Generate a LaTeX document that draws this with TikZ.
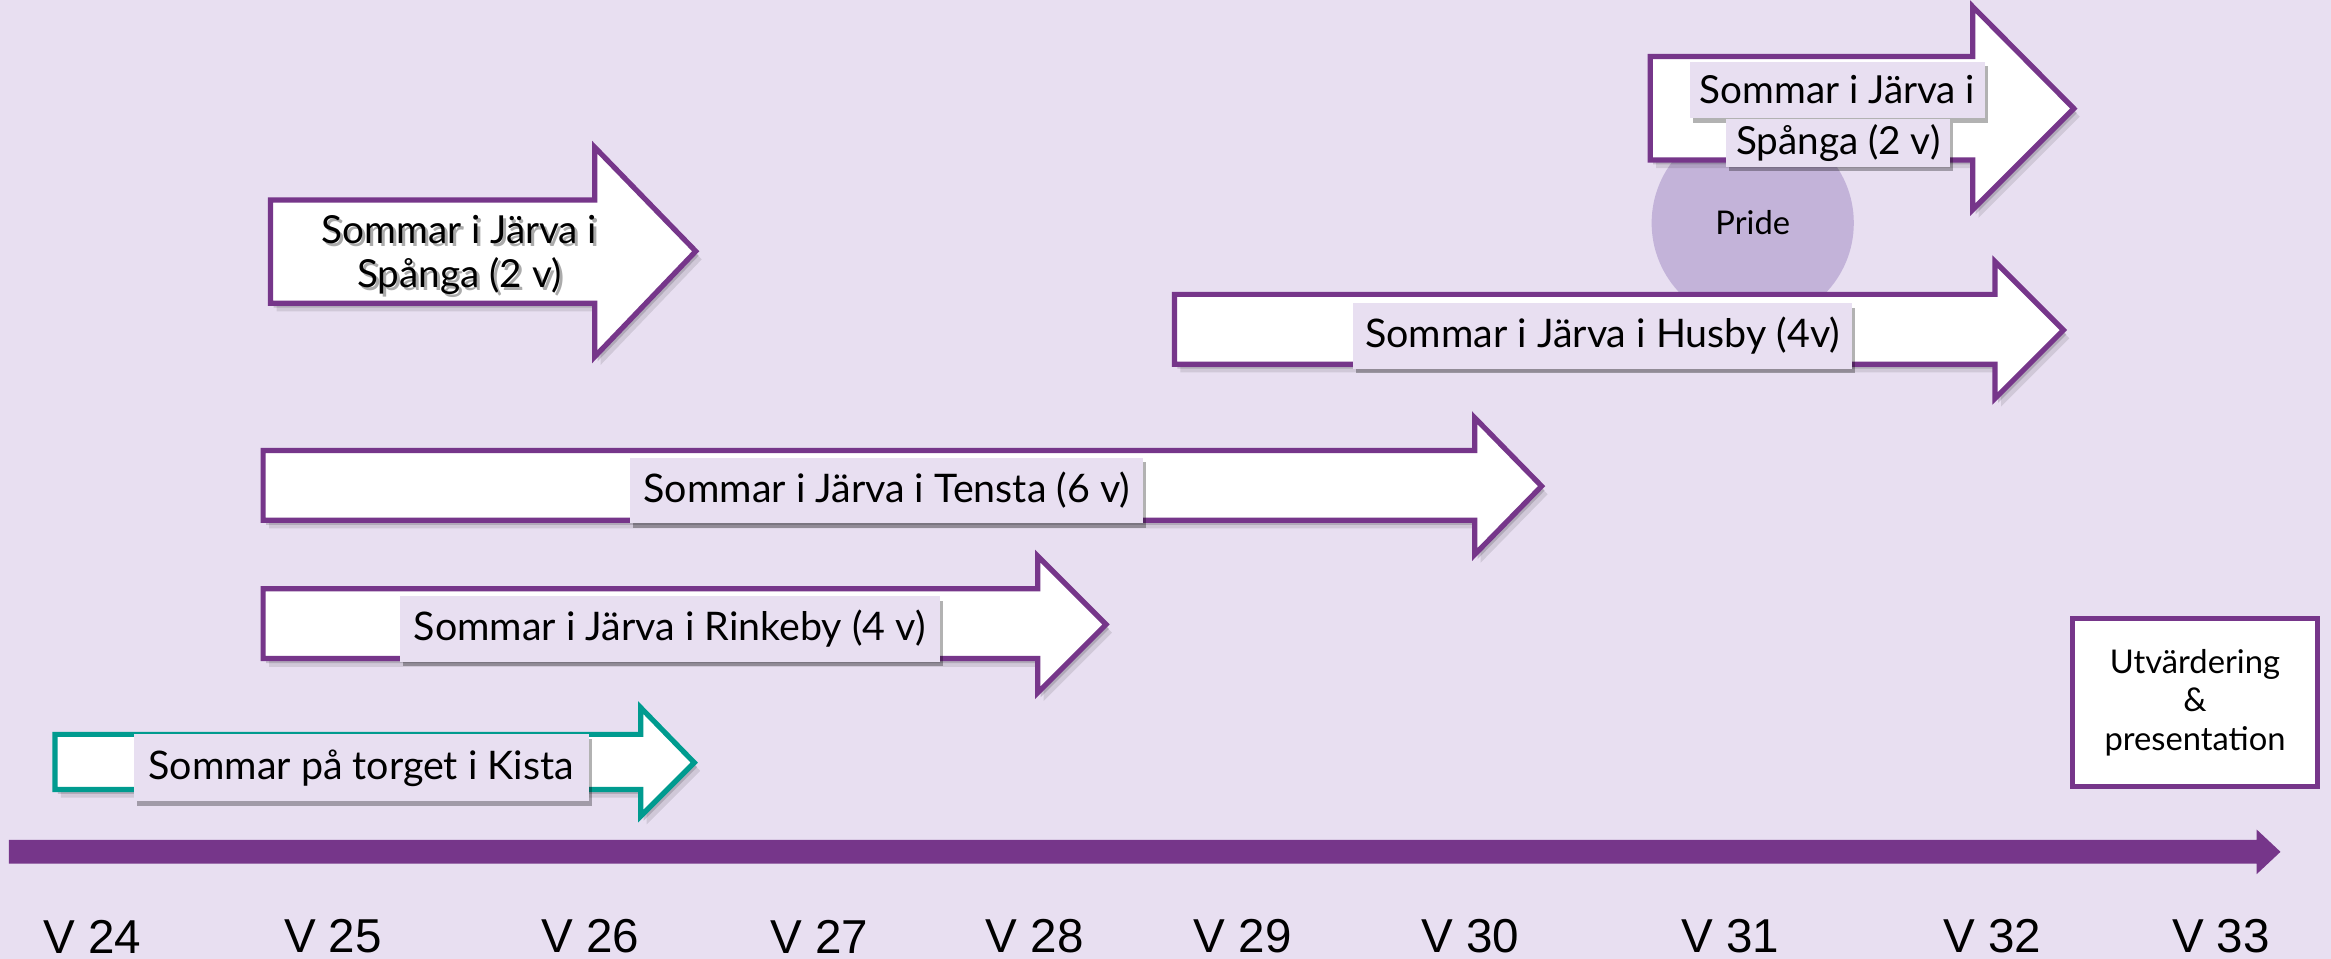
\documentclass[tikz,border=0pt]{standalone}
\usepackage{fontspec}
\setmainfont{Lato}
\newfontfamily\axisfont{Liberation Sans}
\usetikzlibrary{shadows}
\definecolor{bg}{RGB}{232,223,241}
\definecolor{jpurple}{RGB}{118,54,138}
\definecolor{jteal}{RGB}{0,155,143}
\definecolor{pridec}{RGB}{195,179,217}
\tikzset{
  arrowbody/.style={fill=white, line width=3.5pt, line join=miter},
  lbl/.style={fill=bg, inner sep=0pt, font=\fontsize{26.5}{30}\selectfont,
    drop shadow={shadow xshift=2pt, shadow yshift=-3pt, opacity=.3, fill=black}},
  weeklbl/.style={font=\axisfont\fontsize{32}{36}\selectfont, inner sep=0pt},
}
\newcommand\blockarrow[9]{%
  \begin{scope}[shift={(2,3)}]
    \fill[black, opacity=.15] (#2,#3) -- (#5,#3) -- (#5,#6) -- (#8,#9) -- (#5,#7) -- (#5,#4) -- (#2,#4) -- cycle;
  \end{scope}
  \begin{scope}[shift={(4,5.5)}]
    \fill[black, opacity=.10] (#2,#3) -- (#5,#3) -- (#5,#6) -- (#8,#9) -- (#5,#7) -- (#5,#4) -- (#2,#4) -- cycle;
  \end{scope}
  \draw[arrowbody, draw=#1] (#2,#3) -- (#5,#3) -- (#5,#6) -- (#8,#9) -- (#5,#7) -- (#5,#4) -- (#2,#4) -- cycle;
}
\begin{document}
\begin{tikzpicture}[x=1pt, y=-1pt]
\fill[bg] (0,0) rectangle (1568,645);
\useasboundingbox (0,0) rectangle (1568,645);

% left Spanga arrow
\blockarrow{jpurple}{182}{134.5}{204}{400}{99}{240}{468}{169}
\node[font=\fontsize{26}{29}\selectfont, align=center, text=black!55, opacity=.6, inner sep=0pt] at (311,173.5) {Sommar i Järva i\\Spånga (2 v)};
\node[font=\fontsize{26}{29}\selectfont, align=center, inner sep=0pt] (spL) at (309,171.5) {Sommar i Järva i\\Spånga (2 v)};

% Tensta
\blockarrow{jpurple}{177}{303}{350}{992}{281}{373}{1037}{327}
\node[lbl, minimum width=345, minimum height=44] (tensta) at (596.5,330) {Sommar i Järva i Tensta (6 v)};

% Rinkeby
\blockarrow{jpurple}{177}{396}{443}{698}{374}{466}{744}{420}
\node[lbl, minimum width=363, minimum height=44] (rinkeby) at (450.5,423) {Sommar i Järva i Rinkeby (4 v)};

% Kista
\blockarrow{jteal}{37}{494}{531}{431}{476}{549}{467}{513}
\node[lbl, minimum width=306, minimum height=45] (kista) at (243,516.5) {Sommar på torget i Kista};

% Pride
\node[circle, fill=pridec, minimum size=136pt, inner sep=0pt, font=\fontsize{22}{26}\selectfont] (pride) at (1179,150) {Pride};

% Husby
\blockarrow{jpurple}{790}{198}{245}{1342}{176}{268}{1388}{222}
\node[lbl, minimum width=336, minimum height=44] (husby) at (1078,226) {Sommar i Järva i Husby (4v)};

% right Spanga
\blockarrow{jpurple}{1110}{38}{107.6}{1327}{4.5}{141}{1395}{73}
\node[lbl, font=\fontsize{26}{30}\selectfont, minimum width=198, minimum height=38] (spR1) at (1236,60.5) {Sommar i Järva i};
\node[lbl, font=\fontsize{26}{30}\selectfont, minimum width=151, minimum height=32.5] (spR2) at (1236.5,96) {Spånga (2 v)};

% Utvardering
\node[draw=jpurple, line width=3.5pt, fill=white, minimum width=165, minimum height=113, inner sep=0pt,
      align=center, font=\fontsize{22}{26}\selectfont] (utv) at (1476.5,472.5) {Utvärdering\\\&\\presentation};

% axis
\coordinate (axS) at (6,573);
\coordinate (axE) at (1534,573);
\fill[jpurple] (6,565) -- (1518,565) -- (1518,558) -- (axE) -- (1518,588) -- (1518,581) -- (6,581) -- cycle;

% week labels
\node[weeklbl] (w24) at (62,630) {V 24};
\node[weeklbl] (w25) at (224,630) {V 25};
\node[weeklbl] (w26) at (397,630) {V 26};
\node[weeklbl] (w27) at (551,630) {V 27};
\node[weeklbl] (w28) at (696,630) {V 28};
\node[weeklbl] (w29) at (836,630) {V 29};
\node[weeklbl] (w30) at (989,630) {V 30};
\node[weeklbl] (w31) at (1164,630) {V 31};
\node[weeklbl] (w32) at (1340,630) {V 32};
\node[weeklbl] (w33) at (1494,630) {V 33};
\end{tikzpicture}
\end{document}
